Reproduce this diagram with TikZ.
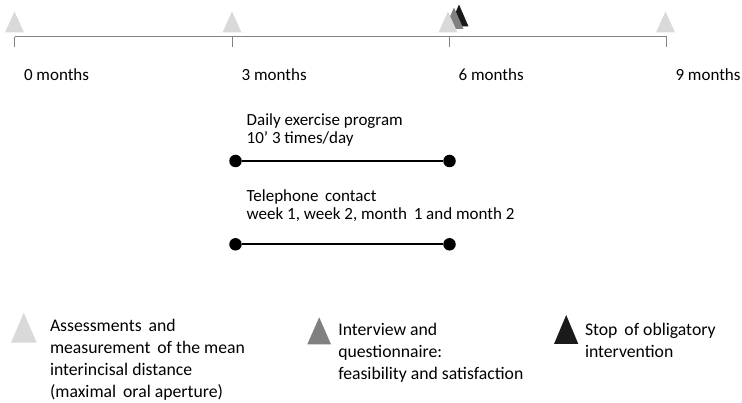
\documentclass[tikz,border=0pt]{standalone}
\usepackage{fontspec}
\setmainfont{Carlito}
\definecolor{lightg}{RGB}{217,217,217}
\definecolor{midg}{RGB}{128,128,128}
\definecolor{darkg}{RGB}{26,26,26}
\definecolor{axisg}{RGB}{130,130,130}
\begin{document}
\begin{tikzpicture}[x=1pt,y=-1pt,
  lbl/.style={anchor=base west,inner sep=0pt,outer sep=0pt,align=left,font=\fontsize{17}{17.5}\selectfont},
  leg/.style={lbl,font=\fontsize{17.7}{22.2}\selectfont},
  axis/.style={draw=axisg,line width=1pt},
  bar/.style={draw=black,line width=1.8pt},
  dot/.style={circle,fill=black,inner sep=0pt,minimum size=12.5pt}
]
\useasboundingbox (0,0) rectangle (742,403);
% ticks
\coordinate (t0) at (14.5,36.7);
\coordinate (t3) at (232,36.7);
\coordinate (t6) at (449,36.7);
\coordinate (t9) at (666.7,36.7);
\draw[axis] (t0) -- (t9);
\foreach \t in {t0,t3,t6,t9} \draw[axis] (\t) -- ++(0,10);
% timeline triangles
\fill[darkg] (449.5,26.5) -- (459,4.5) -- (468.5,26.5) -- cycle;
\fill[midg] (444.5,29) -- (454,7.5) -- (463.5,29) -- cycle;
\foreach \x in {14.5,232,448,665.5}
  \fill[lightg] (\x-9.5,32.5) -- (\x,11.5) -- (\x+9.5,32.5) -- cycle;
% month labels
\node[lbl] (m0) at (24,81) {0 months};
\node[lbl] (m3) at (241.7,81) {3 months};
\node[lbl] (m6) at (458.7,81) {6 months};
\node[lbl] (m9) at (675.5,81) {9 months};
% exercise program
\node[lbl] (ex) at (246.7,143.5) {Daily exercise program\\10’ 3 times/day};
\node[dot] (exa) at (235.5,161) {};
\node[dot] (exb) at (449.5,161) {};
\draw[bar] (exa) -- (exb);
% telephone contact
\node[lbl] (tel) at (246.7,219.5) {Telephone\, contact\\week 1, week 2, month\, 1 and month 2};
\node[dot] (tea) at (235.5,244.3) {};
\node[dot] (teb) at (449.5,244.3) {};
\draw[bar] (tea) -- (teb);
% legend
\fill[lightg] (11,342.7) -- (23.8,312.7) -- (36.7,342.7) -- cycle;
\node[leg] (l1) at (50,398) {Assessments\, and\\measurement\, of the mean\\interincisal distance\\(maximal\, oral aperture)};
\fill[midg] (307.3,344.3) -- (319.2,317.3) -- (331,344.3) -- cycle;
\node[leg] (l2) at (338.3,380) {Interview and\\questionnaire:\\feasibility and satisfaction};
\fill[darkg] (554,344) -- (566.2,315) -- (578.3,344) -- cycle;
\node[leg] (l3) at (585,358) {Stop\, of obligatory\\intervention};
\end{tikzpicture}
\end{document}
